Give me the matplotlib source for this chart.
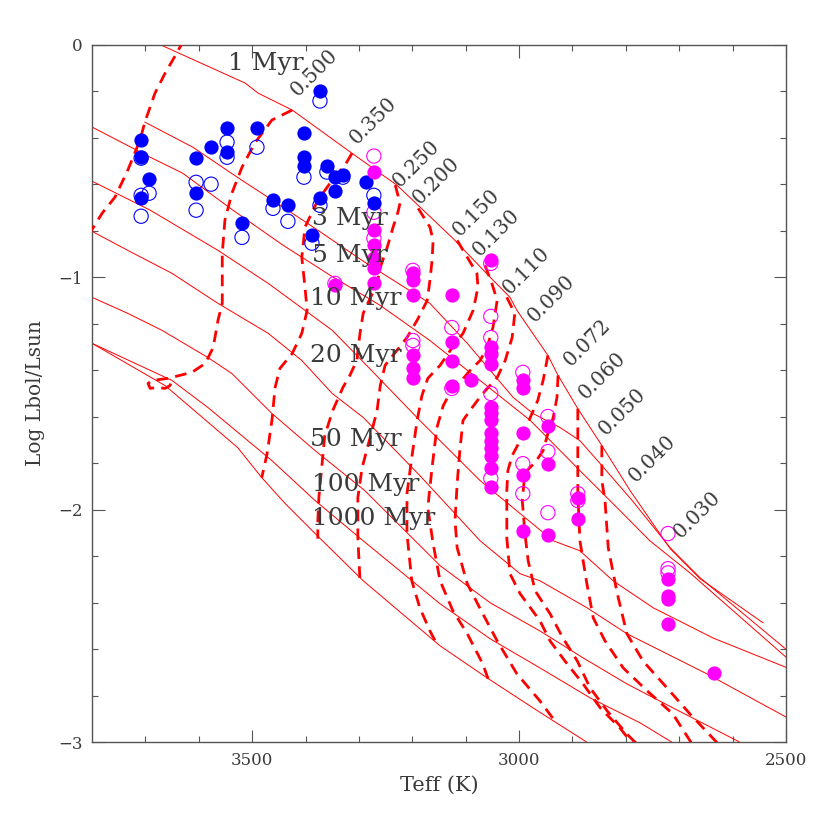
import matplotlib
matplotlib.use("Agg")
import matplotlib.pyplot as plt

# isochrones (Teff, log L/Lsun), thin solid
iso_1myr = [(3671, 0.00), (3513, -0.164), (3489, -0.207), (3425, -0.280), (3313, -0.466),
            (3229, -0.603), (3124, -0.832), (3054, -1.000), (3017, -1.086), (3004, -1.142),
            (2946, -1.336), (2927, -1.422), (2890, -1.565), (2845, -1.724), (2792, -1.918),
            (2717, -2.168), (2661, -2.297), (2543, -2.487)]
iso_3myr = [(3701, -0.332), (3611, -0.440), (3528, -0.569), (3442, -0.698), (3377, -0.797),
            (3289, -0.935), (3167, -1.112), (3097, -1.284), (3049, -1.414), (3011, -1.517),
            (2974, -1.586), (2923, -1.647), (2886, -1.703), (2848, -1.802), (2788, -1.961),
            (2717, -2.164), (2661, -2.293), (2490, -2.620)]
iso_5myr = [(3800, -0.353), (3691, -0.483), (3630, -0.552), (3536, -0.711), (3442, -0.862),
            (3354, -0.991), (3260, -1.121), (3167, -1.272), (3073, -1.444), (2979, -1.616),
            (2886, -1.832), (2811, -2.004), (2755, -2.134), (2680, -2.272), (2490, -2.655)]
iso_10myr = [(3800, -0.586), (3691, -0.711), (3564, -0.884), (3470, -1.026), (3350, -1.228),
             (3289, -1.371), (3186, -1.616), (3073, -1.875), (2936, -2.134), (2886, -2.177),
             (2824, -2.306), (2749, -2.422), (2637, -2.552), (2490, -2.688)]
iso_20myr = [(3800, -0.802), (3733, -0.884), (3650, -0.983), (3564, -1.112), (3470, -1.241),
             (3407, -1.358), (3350, -1.500), (3292, -1.603), (3186, -1.853), (3073, -2.134),
             (2998, -2.276), (2961, -2.306), (2873, -2.422), (2798, -2.534), (2648, -2.707),
             (2490, -2.905)]
iso_50myr = [(3800, -1.086), (3733, -1.155), (3669, -1.228), (3583, -1.345), (3538, -1.414),
             (3463, -1.586), (3382, -1.746), (3289, -1.918), (3148, -2.241), (3054, -2.401),
             (2961, -2.522), (2880, -2.638), (2798, -2.750), (2712, -2.853), (2570, -3.02)]
iso_100myr = [(3800, -1.284), (3650, -1.444), (3583, -1.560), (3463, -1.789), (3382, -1.961),
              (3292, -2.134), (3148, -2.405), (3054, -2.556), (2961, -2.681), (2867, -2.810),
              (2773, -2.918), (2700, -3.02)]
iso_1000myr = [(3800, -1.284), (3663, -1.466), (3527, -1.733), (3482, -1.862), (3438, -1.974),
               (3382, -2.103), (3292, -2.306), (3148, -2.586), (3060, -2.724), (2974, -2.853),
               (2860, -3.02)]
isochrones = [iso_1myr, iso_3myr, iso_5myr, iso_10myr, iso_20myr, iso_50myr, iso_100myr, iso_1000myr]
age_labels = ["1 Myr", "3 Myr", "5 Myr", "10 Myr", "20 Myr", "50 Myr", "100 Myr", "1000 Myr"]

# mass tracks (Teff, log L/Lsun), thick dashed
trk_top = [(3807, -0.82), (3781, -0.724), (3757, -0.655), (3733, -0.539), (3710, -0.409),
           (3701, -0.332), (3682, -0.207), (3663, -0.121), (3641, -0.034), (3626, 0.03)]
trk_0500 = [(3425, -0.280), (3463, -0.323), (3495, -0.422), (3519, -0.526), (3538, -0.638),
            (3551, -0.754), (3556, -0.897), (3556, -1.013), (3556, -1.112), (3564, -1.185),
            (3573, -1.302), (3588, -1.371), (3613, -1.409), (3658, -1.435), (3688, -1.444),
            (3695, -1.457), (3691, -1.478), (3678, -1.474), (3663, -1.478), (3654, -1.466),
            (3650, -1.444)]
trk_0350 = [(3313, -0.466), (3326, -0.517), (3350, -0.582), (3377, -0.668), (3401, -0.784),
            (3407, -0.914), (3401, -1.043), (3397, -1.142), (3407, -1.241), (3425, -1.328),
            (3448, -1.392), (3457, -1.474), (3463, -1.616), (3472, -1.759), (3482, -1.862)]
trk_0250 = [(3232, -0.603), (3223, -0.681), (3227, -0.720), (3236, -0.784), (3247, -0.871),
            (3260, -0.957), (3266, -1.026), (3292, -1.155), (3298, -1.241), (3304, -1.358),
            (3317, -1.422), (3330, -1.474), (3349, -1.573), (3364, -1.681), (3369, -1.802),
            (3375, -1.948), (3377, -2.047), (3377, -2.125)]
trk_0200 = [(3189, -0.703), (3167, -0.784), (3161, -0.841), (3163, -0.927), (3167, -1.013),
            (3172, -1.099), (3191, -1.185), (3210, -1.259), (3229, -1.315), (3251, -1.379),
            (3260, -1.466), (3266, -1.573), (3279, -1.690), (3294, -1.819), (3302, -1.948),
            (3302, -2.121), (3298, -2.306), (3294, -2.319)]
trk_0150 = [(3116, -0.841), (3097, -0.914), (3079, -0.983), (3077, -1.043), (3086, -1.142),
            (3105, -1.241), (3129, -1.315), (3148, -1.379), (3171, -1.435), (3182, -1.509),
            (3191, -1.616), (3201, -1.776), (3210, -1.931), (3210, -2.103), (3201, -2.306),
            (3186, -2.422), (3167, -2.522), (3154, -2.578)]
trk_0130 = [(3064, -0.948), (3051, -1.026), (3041, -1.099), (3049, -1.216), (3060, -1.302),
            (3073, -1.358), (3092, -1.401), (3111, -1.453), (3129, -1.496), (3142, -1.552),
            (3154, -1.647), (3163, -1.819), (3171, -1.991), (3161, -2.147), (3148, -2.306),
            (3124, -2.435), (3097, -2.534), (3068, -2.664), (3058, -2.728)]
trk_0110 = [(3023, -1.086), (3008, -1.155), (3013, -1.259), (3026, -1.358), (3041, -1.431),
            (3068, -1.500), (3092, -1.573), (3105, -1.616), (3111, -1.746), (3116, -1.888),
            (3120, -2.047), (3116, -2.164), (3097, -2.319), (3068, -2.448), (3041, -2.565),
            (3004, -2.707), (2961, -2.823), (2929, -2.922)]
trk_0090 = [(2946, -1.336), (2955, -1.444), (2965, -1.530), (2979, -1.603), (2998, -1.703),
            (3013, -1.767), (3021, -1.832), (3023, -1.918), (3023, -2.121), (3017, -2.276),
            (2998, -2.362), (2961, -2.478), (2942, -2.565), (2910, -2.664), (2880, -2.750),
            (2848, -2.853), (2811, -2.940), (2780, -3.03)]
trk_0072 = [(2927, -1.422), (2929, -1.517), (2936, -1.603), (2946, -1.672), (2955, -1.746),
            (2970, -1.797), (2989, -1.840), (2994, -1.961), (2989, -2.103), (2983, -2.220),
            (2970, -2.349), (2942, -2.448), (2918, -2.552), (2891, -2.651), (2867, -2.767),
            (2835, -2.866), (2798, -2.966), (2770, -3.03)]
trk_0060 = [(2890, -1.565), (2890, -1.746), (2890, -1.931), (2886, -2.134), (2873, -2.319),
            (2861, -2.466), (2839, -2.565), (2805, -2.681), (2760, -2.780), (2712, -2.879),
            (2670, -3.03)]
trk_0050 = [(2845, -1.724), (2845, -1.875), (2839, -1.961), (2833, -2.164), (2816, -2.362),
            (2798, -2.534), (2768, -2.651), (2723, -2.767), (2680, -2.879), (2618, -3.03)]
tracks = [trk_top, trk_0500, trk_0350, trk_0250, trk_0200, trk_0150, trk_0130,
          trk_0110, trk_0090, trk_0072, trk_0060, trk_0050]

# mass labels, placed at the 1 Myr end of each track
mass_labels = ["0.500", "0.350", "0.250", "0.200", "0.150", "0.130", "0.110",
               "0.090", "0.072", "0.060", "0.050", "0.040", "0.030"]
mass_label_teff = [3414, 3304, 3223, 3187, 3111, 3073, 3017, 2970, 2904, 2876, 2838, 2782, 2697]
mass_label_logl = [-0.224, -0.431, -0.616, -0.690, -0.828, -0.914, -1.078, -1.198, -1.388,
                   -1.530, -1.681, -1.884, -2.125]

# blue sample
blue_fill_teff = [3708, 3708, 3693, 3708, 3605, 3577, 3547, 3547, 3491, 3605, 3519, 3461, 3433,
                  3403, 3403, 3403, 3373, 3360, 3345, 3330, 3345, 3373, 3388, 3287, 3272]
blue_fill_logl = [-0.409, -0.483, -0.578, -0.659, -0.487, -0.440, -0.358, -0.461, -0.358, -0.638,
                  -0.767, -0.668, -0.690, -0.379, -0.483, -0.522, -0.198, -0.522, -0.569, -0.560,
                  -0.629, -0.659, -0.819, -0.591, -0.681]
blue_open_teff = [3708, 3708, 3693, 3708, 3605, 3577, 3547, 3547, 3491, 3605, 3519, 3461, 3433,
                  3403, 3373, 3360, 3330, 3373, 3388, 3272]
blue_open_logl = [-0.487, -0.647, -0.638, -0.737, -0.591, -0.599, -0.418, -0.483, -0.440, -0.711,
                  -0.828, -0.703, -0.759, -0.569, -0.241, -0.547, -0.569, -0.690, -0.853, -0.647]

# magenta sample
mag_fill_teff = [3345, 3272, 3272, 3272, 3272, 3272, 3272, 3199, 3199, 3199, 3199, 3199, 3199,
                 3126, 3126, 3126, 3126, 3090, 3053, 3053, 3053, 3053, 3053, 3053, 3053, 3053,
                 3053, 3053, 3053, 3053, 2993, 2993, 2993, 2993, 2993, 2946, 2946, 2946, 2890,
                 2890, 2721, 2721, 2721, 2721, 2635, 3053]
mag_fill_logl = [-1.034, -0.547, -0.797, -0.862, -0.918, -0.961, -1.026, -0.983, -1.013, -1.078,
                 -1.336, -1.392, -1.435, -1.078, -1.280, -1.358, -1.466, -1.440, -0.927, -1.302,
                 -1.328, -1.371, -1.560, -1.586, -1.616, -1.668, -1.703, -1.733, -1.767, -1.819,
                 -1.444, -1.478, -1.668, -1.849, -2.091, -1.638, -1.802, -2.108, -1.948, -2.039,
                 -2.297, -2.371, -2.384, -2.491, -2.703, -1.901]
mag_open_teff = [3345, 3272, 3272, 3272, 3199, 3199, 3199, 3126, 3126, 3053, 3053, 3053, 3053,
                 3053, 2993, 2993, 2993, 2946, 2946, 2946, 2890, 2890, 2721, 2721, 2721]
mag_open_logl = [-1.026, -0.478, -0.720, -0.832, -0.970, -1.272, -1.293, -1.216, -1.478, -0.940,
                 -1.168, -1.259, -1.500, -1.866, -1.409, -1.802, -1.931, -1.599, -1.750, -2.013,
                 -1.931, -1.961, -2.103, -2.254, -2.272]

plt.rcParams["font.family"] = ["DejaVu Serif"]
txt = "#3a3a3a"
axc = "#555555"

fig = plt.figure(figsize=(8.3, 8.3), dpi=100)
ax = fig.add_axes([92 / 830, 1 - 742 / 830, 694 / 830, 697 / 830])

for iso in isochrones:
    t, l = zip(*iso)
    ax.plot(t, l, color="#ff0000", lw=0.7, zorder=2)

for trk in tracks:
    t, l = zip(*trk)
    ax.plot(t, l, color="#ff0000", lw=2.0, dashes=(4.2, 2.6), zorder=3)

ms = 105
ax.scatter(blue_open_teff, blue_open_logl, s=ms, facecolors="none", edgecolors="#0000ff",
           linewidths=0.8, zorder=4)
ax.scatter(blue_fill_teff, blue_fill_logl, s=ms, color="#0000ff", linewidths=0, zorder=5)
ax.scatter(mag_open_teff, mag_open_logl, s=ms, facecolors="none", edgecolors="#ff00ff",
           linewidths=0.8, zorder=4)
ax.scatter(mag_fill_teff, mag_fill_logl, s=ms, color="#ff00ff", linewidths=0, zorder=5)

# age labels
age_x = [3545, 3388, 3388, 3392, 3392, 3392, 3388, 3388]
age_y = [-0.108, -0.776, -0.935, -1.121, -1.366, -1.728, -1.918, -2.065]
for s, x, y in zip(age_labels, age_x, age_y):
    ax.text(x, y, s, fontsize=18, color=txt, ha="left", va="baseline", zorder=6)

for s, x, y in zip(mass_labels, mass_label_teff, mass_label_logl):
    ax.text(x, y, s, fontsize=14.5, color=txt, rotation=45, rotation_mode="anchor",
            ha="left", va="baseline", zorder=6)

ax.set_xlim(3800, 2500)
ax.set_ylim(-3, 0)
ax.set_xticks([3500, 3000, 2500])
ax.set_xticks(range(2600, 3800, 100), minor=True)
ax.set_yticks([0, -1, -2, -3])
ax.set_yticks([-0.2, -0.4, -0.6, -0.8, -1.2, -1.4, -1.6, -1.8, -2.2, -2.4, -2.6, -2.8], minor=True)
ax.tick_params(which="both", direction="in", top=True, right=True, color=axc,
               labelcolor=txt, labelsize=12, width=0.8)
ax.tick_params(which="major", length=9, pad=7)
ax.tick_params(which="minor", length=4.5)
for sp in ax.spines.values():
    sp.set_color(axc)
    sp.set_linewidth(1.0)

ax.set_xlabel("Teff (K)", fontsize=15, color=txt, labelpad=5)
ax.set_ylabel("Log Lbol/Lsun", fontsize=14.5, color=txt, labelpad=9)

fig.savefig("out.png", dpi=100)
